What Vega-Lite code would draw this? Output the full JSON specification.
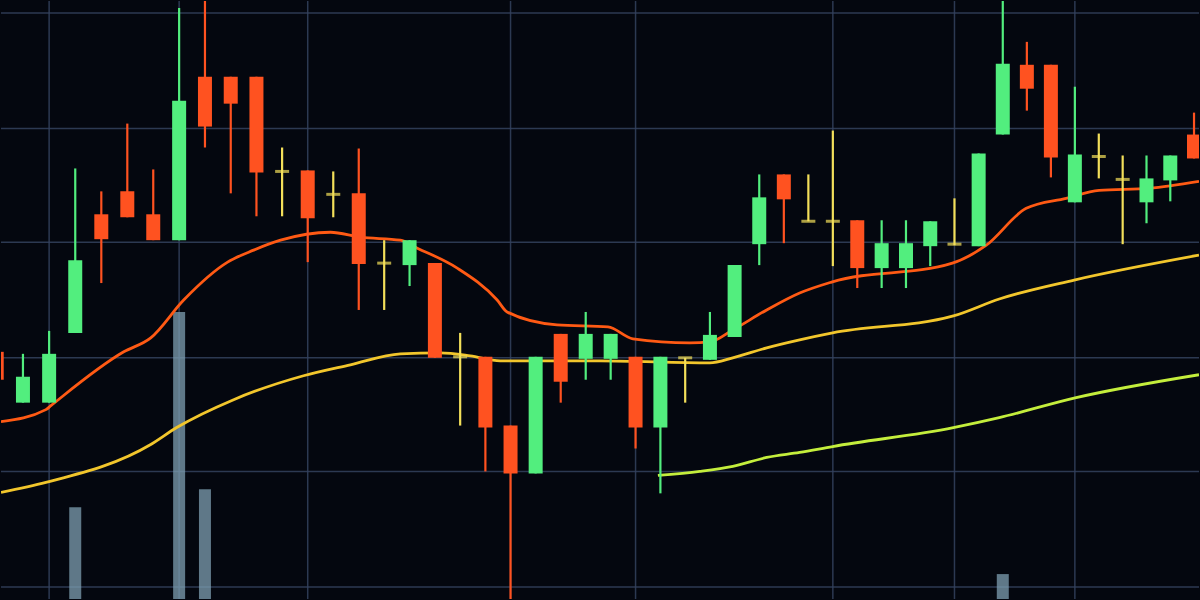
{
  "$schema": "https://vega.github.io/schema/vega-lite/v6.json",
  "autosize": {"type": "fit", "contains": "padding"},
  "width": 1200,
  "height": 600,
  "padding": 0,
  "background": "#04070f",
  "config": {"view": {"stroke": null}, "axis": {"disable": true}},
  "datasets": {
    "candles": [
      {"i": 0, "dir": "down", "open": 24.8, "close": 22.0, "high": 24.8, "low": 22.0},
      {"i": 1, "dir": "up", "open": 19.7, "close": 22.3, "high": 24.6, "low": 19.7},
      {"i": 2, "dir": "up", "open": 19.7, "close": 24.6, "high": 26.9, "low": 19.7},
      {"i": 3, "dir": "up", "open": 26.7, "close": 34.0, "high": 43.2, "low": 26.7},
      {"i": 4, "dir": "down", "open": 38.6, "close": 36.1, "high": 40.9, "low": 31.7},
      {"i": 5, "dir": "down", "open": 40.9, "close": 38.3, "high": 47.7, "low": 38.3},
      {"i": 6, "dir": "down", "open": 38.6, "close": 36.0, "high": 43.1, "low": 36.0},
      {"i": 7, "dir": "up", "open": 36.0, "close": 50.0, "high": 59.3, "low": 36.0},
      {"i": 8, "dir": "down", "open": 52.4, "close": 47.4, "high": 61.0, "low": 45.3},
      {"i": 9, "dir": "down", "open": 52.4, "close": 49.7, "high": 52.4, "low": 40.7},
      {"i": 10, "dir": "down", "open": 52.4, "close": 42.8, "high": 52.4, "low": 38.4},
      {"i": 11, "dir": "doji", "open": 42.9, "close": 42.9, "high": 45.3, "low": 38.4},
      {"i": 12, "dir": "down", "open": 43.0, "close": 38.2, "high": 43.0, "low": 33.8},
      {"i": 13, "dir": "doji", "open": 40.6, "close": 40.6, "high": 42.9, "low": 38.3},
      {"i": 14, "dir": "down", "open": 40.7, "close": 33.6, "high": 45.2, "low": 29.0},
      {"i": 15, "dir": "doji", "open": 33.7, "close": 33.7, "high": 36.0, "low": 29.0},
      {"i": 16, "dir": "up", "open": 33.5, "close": 36.0, "high": 36.0, "low": 31.4},
      {"i": 17, "dir": "down", "open": 33.7, "close": 24.2, "high": 33.7, "low": 24.2},
      {"i": 18, "dir": "doji", "open": 24.3, "close": 24.3, "high": 26.7, "low": 17.4},
      {"i": 19, "dir": "down", "open": 24.3, "close": 17.2, "high": 24.3, "low": 12.8},
      {"i": 20, "dir": "down", "open": 17.4, "close": 12.6, "high": 17.4, "low": -1.0},
      {"i": 21, "dir": "up", "open": 12.6, "close": 24.3, "high": 24.3, "low": 12.6},
      {"i": 22, "dir": "down", "open": 26.6, "close": 21.8, "high": 26.6, "low": 19.7},
      {"i": 23, "dir": "up", "open": 24.1, "close": 26.6, "high": 28.8, "low": 22.0},
      {"i": 24, "dir": "up", "open": 24.1, "close": 26.6, "high": 26.6, "low": 22.0},
      {"i": 25, "dir": "down", "open": 24.3, "close": 17.2, "high": 24.3, "low": 15.1},
      {"i": 26, "dir": "up", "open": 17.2, "close": 24.3, "high": 24.3, "low": 10.6},
      {"i": 27, "dir": "doji", "open": 24.2, "close": 24.2, "high": 24.2, "low": 19.7},
      {"i": 28, "dir": "up", "open": 24.0, "close": 26.5, "high": 28.8, "low": 24.0},
      {"i": 29, "dir": "up", "open": 26.3, "close": 33.5, "high": 33.5, "low": 26.3},
      {"i": 30, "dir": "up", "open": 35.6, "close": 40.3, "high": 42.6, "low": 33.5},
      {"i": 31, "dir": "down", "open": 42.6, "close": 40.1, "high": 42.6, "low": 35.7},
      {"i": 32, "dir": "doji", "open": 37.9, "close": 37.9, "high": 42.6, "low": 37.9},
      {"i": 33, "dir": "doji", "open": 37.9, "close": 37.9, "high": 47.0, "low": 33.4},
      {"i": 34, "dir": "down", "open": 38.0, "close": 33.2, "high": 38.0, "low": 31.2},
      {"i": 35, "dir": "up", "open": 33.2, "close": 35.7, "high": 38.0, "low": 31.2},
      {"i": 36, "dir": "up", "open": 33.2, "close": 35.7, "high": 38.0, "low": 31.2},
      {"i": 37, "dir": "up", "open": 35.4, "close": 37.9, "high": 37.9, "low": 33.4},
      {"i": 38, "dir": "doji", "open": 35.6, "close": 35.6, "high": 40.2, "low": 35.5},
      {"i": 39, "dir": "up", "open": 35.4, "close": 44.7, "high": 44.7, "low": 35.4},
      {"i": 40, "dir": "up", "open": 46.6, "close": 53.7, "high": 61.0, "low": 46.6},
      {"i": 41, "dir": "down", "open": 53.6, "close": 51.2, "high": 55.9, "low": 49.0},
      {"i": 42, "dir": "down", "open": 53.6, "close": 44.3, "high": 53.6, "low": 42.3},
      {"i": 43, "dir": "up", "open": 39.8, "close": 44.6, "high": 51.4, "low": 39.8},
      {"i": 44, "dir": "doji", "open": 44.4, "close": 44.4, "high": 46.7, "low": 42.2},
      {"i": 45, "dir": "doji", "open": 42.1, "close": 42.1, "high": 44.5, "low": 35.6},
      {"i": 46, "dir": "up", "open": 39.8, "close": 42.2, "high": 44.5, "low": 37.7},
      {"i": 47, "dir": "up", "open": 42.0, "close": 44.5, "high": 44.5, "low": 39.9},
      {"i": 48, "dir": "down", "open": 46.6, "close": 44.2, "high": 48.8, "low": 44.2}
    ],
    "ma": [
      {"series": "fast", "x": 0.163, "v": 17.8},
      {"series": "fast", "x": 1.877, "v": 19.0},
      {"series": "fast", "x": 2.068, "v": 19.4},
      {"series": "fast", "x": 4.864, "v": 24.8},
      {"series": "fast", "x": 5.903, "v": 26.2},
      {"series": "fast", "x": 7.176, "v": 30.0},
      {"series": "fast", "x": 8.879, "v": 33.8},
      {"series": "fast", "x": 9.888, "v": 35.0},
      {"series": "fast", "x": 10.938, "v": 36.0},
      {"series": "fast", "x": 12.890, "v": 36.8},
      {"series": "fast", "x": 14.065, "v": 36.3},
      {"series": "fast", "x": 15.636, "v": 36.0},
      {"series": "fast", "x": 16.305, "v": 35.2},
      {"series": "fast", "x": 17.884, "v": 33.2},
      {"series": "fast", "x": 19.468, "v": 30.0},
      {"series": "fast", "x": 19.864, "v": 28.8},
      {"series": "fast", "x": 21.854, "v": 27.5},
      {"series": "fast", "x": 23.892, "v": 27.3},
      {"series": "fast", "x": 24.894, "v": 26.1},
      {"series": "fast", "x": 27.187, "v": 25.7},
      {"series": "fast", "x": 27.995, "v": 25.8},
      {"series": "fast", "x": 28.925, "v": 27.0},
      {"series": "fast", "x": 30.303, "v": 29.0},
      {"series": "fast", "x": 31.645, "v": 30.7},
      {"series": "fast", "x": 32.949, "v": 31.8},
      {"series": "fast", "x": 37.914, "v": 33.7},
      {"series": "fast", "x": 39.318, "v": 35.5},
      {"series": "fast", "x": 40.974, "v": 39.2},
      {"series": "fast", "x": 42.638, "v": 40.2},
      {"series": "fast", "x": 44.014, "v": 41.0},
      {"series": "fast", "x": 46.108, "v": 41.2},
      {"series": "fast", "x": 48.21, "v": 41.9},
      {"series": "mid", "x": 0.163, "v": 10.7},
      {"series": "mid", "x": 1.877, "v": 11.7},
      {"series": "mid", "x": 5.903, "v": 15.5},
      {"series": "mid", "x": 6.906, "v": 17.2},
      {"series": "mid", "x": 9.112, "v": 20.0},
      {"series": "mid", "x": 11.835, "v": 22.4},
      {"series": "mid", "x": 13.672, "v": 23.5},
      {"series": "mid", "x": 15.636, "v": 24.6},
      {"series": "mid", "x": 17.212, "v": 24.7},
      {"series": "mid", "x": 18.398, "v": 24.4},
      {"series": "mid", "x": 19.587, "v": 23.9},
      {"series": "mid", "x": 23.572, "v": 23.9},
      {"series": "mid", "x": 27.995, "v": 23.7},
      {"series": "mid", "x": 28.925, "v": 24.2},
      {"series": "mid", "x": 30.303, "v": 25.2},
      {"series": "mid", "x": 31.645, "v": 26.0},
      {"series": "mid", "x": 32.990, "v": 26.7},
      {"series": "mid", "x": 37.955, "v": 28.4},
      {"series": "mid", "x": 39.855, "v": 30.1},
      {"series": "mid", "x": 42.971, "v": 32.0},
      {"series": "mid", "x": 48.21, "v": 34.5},
      {"series": "slow", "x": 25.899, "v": 12.4},
      {"series": "slow", "x": 27.591, "v": 12.8},
      {"series": "slow", "x": 28.925, "v": 13.3},
      {"series": "slow", "x": 30.303, "v": 14.2},
      {"series": "slow", "x": 31.645, "v": 14.7},
      {"series": "slow", "x": 32.990, "v": 15.3},
      {"series": "slow", "x": 37.955, "v": 17.2},
      {"series": "slow", "x": 39.855, "v": 18.2},
      {"series": "slow", "x": 43.054, "v": 20.2},
      {"series": "slow", "x": 48.21, "v": 22.5}
    ],
    "volume": [
      {"i": 3, "vol": 9.2},
      {"i": 7, "vol": 28.8},
      {"i": 8, "vol": 11.0},
      {"i": 40, "vol": 2.5}
    ],
    "gridx": [
      {"x": 2}, {"x": 7}, {"x": 12}, {"x": 20}, {"x": 25}, {"x": 33}, {"x": 38}, {"x": 43}
    ],
    "gridy": [
      {"y": 58.8}, {"y": 47.2}, {"y": 35.8}, {"y": 24.2}, {"y": 12.8}, {"y": 1.2}
    ]
  },
  "layer": [
    {
      "data": {"name": "gridx"},
      "mark": {"type": "rule", "color": "#34425e", "strokeWidth": 1.5, "opacity": 0.85},
      "encoding": {
        "x": {"field": "x", "type": "quantitative", "scale": {"type": "symlog", "constant": 446, "domain": [0.163, 48.21], "nice": false, "zero": false, "padding": 0}}
      }
    },
    {
      "data": {"name": "gridy"},
      "mark": {"type": "rule", "color": "#34425e", "strokeWidth": 1.5, "opacity": 0.85},
      "encoding": {
        "y": {"field": "y", "type": "quantitative", "scale": {"domain": [0, 60], "nice": false, "zero": false, "padding": 0}}
      }
    },
    {
      "data": {"name": "volume"},
      "mark": {"type": "bar", "size": 12, "color": "#7d9fb2", "opacity": 0.75, "clip": true},
      "encoding": {
        "x": {"field": "i", "type": "quantitative"},
        "y": {"field": "vol", "type": "quantitative"}
      }
    },
    {
      "data": {"name": "ma"},
      "mark": {"type": "line", "strokeWidth": 2.8, "interpolate": "monotone", "clip": true},
      "encoding": {
        "x": {"field": "x", "type": "quantitative"},
        "y": {"field": "v", "type": "quantitative"},
        "detail": {"field": "series"},
        "color": {"field": "series", "type": "nominal", "legend": null,
          "scale": {"domain": ["up", "down", "doji", "fast", "mid", "slow"], "range": ["#52ee7e", "#ff5220", "#f3df5a", "#ff5a14", "#f2c62c", "#c4ee3c"]}}
      }
    },
    {
      "data": {"name": "candles"},
      "mark": {"type": "rule", "strokeWidth": 2.2, "clip": true},
      "encoding": {
        "x": {"field": "i", "type": "quantitative"},
        "y": {"field": "high", "type": "quantitative"},
        "y2": {"field": "low"},
        "color": {"field": "dir", "type": "nominal", "legend": null}
      }
    },
    {
      "data": {"name": "candles"},
      "transform": [{"filter": "datum.dir !== 'doji'"}],
      "mark": {"type": "bar", "size": 14, "clip": true},
      "encoding": {
        "x": {"field": "i", "type": "quantitative"},
        "y": {"field": "open", "type": "quantitative"},
        "y2": {"field": "close"},
        "color": {"field": "dir", "type": "nominal", "legend": null}
      }
    },
    {
      "data": {"name": "candles"},
      "transform": [{"filter": "datum.dir === 'doji'"}],
      "mark": {"type": "tick", "orient": "horizontal", "size": 14, "thickness": 3, "clip": true},
      "encoding": {
        "x": {"field": "i", "type": "quantitative"},
        "y": {"field": "open", "type": "quantitative"},
        "color": {"field": "dir", "type": "nominal", "legend": null}
      }
    }
  ]
}
